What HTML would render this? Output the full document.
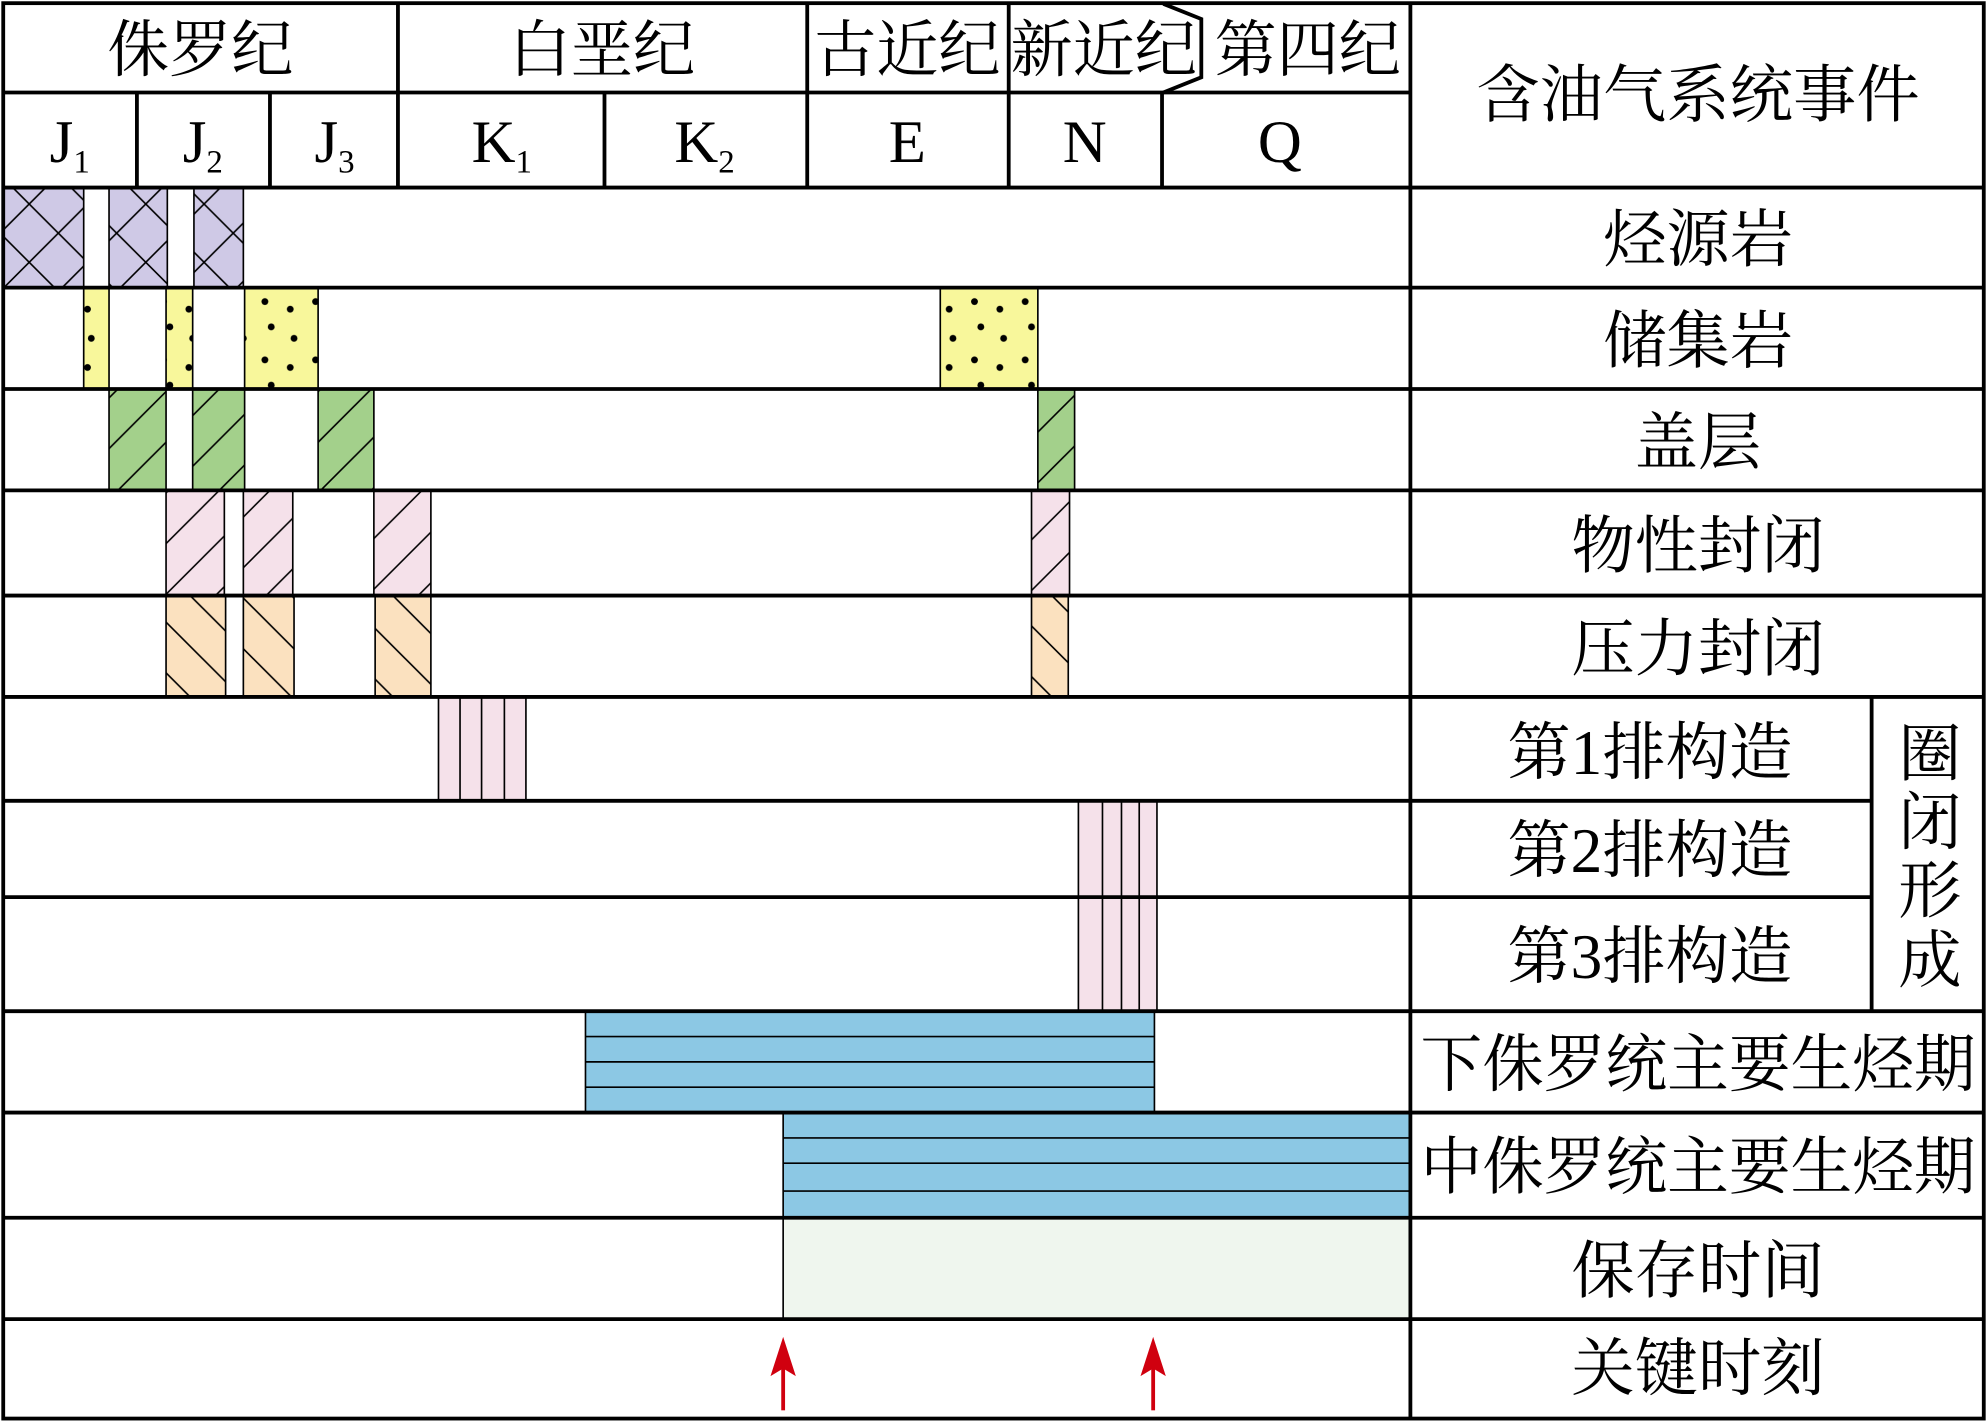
<!DOCTYPE html>
<html><head><meta charset="utf-8"><style>html,body{margin:0;padding:0;background:#fff}svg{display:block}</style></head>
<body>
<svg width="1987" height="1423" viewBox="0 0 1568 1123" xmlns="http://www.w3.org/2000/svg">
<defs>
<pattern id="px" patternUnits="userSpaceOnUse" width="46" height="46"><rect width="46" height="46" fill="#cfc9e6"/><path d="M0 0L46 46M46 0L0 46" stroke="#000" stroke-width="1.3"/></pattern>
<pattern id="py" patternUnits="userSpaceOnUse" width="40" height="46"><rect width="40" height="46" fill="#f8f79b"/><circle cx="9" cy="8" r="2.7"/><circle cx="29" cy="14" r="2.7"/><circle cx="14" cy="28" r="2.7"/><circle cx="32" cy="37" r="2.7"/></pattern>
<pattern id="pg" patternUnits="userSpaceOnUse" width="40" height="40"><rect width="40" height="40" fill="#a3d08b"/><path d="M-10 50L50 -10M-10 10L10 -10M30 50L50 30" stroke="#000" stroke-width="1.3"/></pattern>
<pattern id="pp" patternUnits="userSpaceOnUse" width="40" height="40"><rect width="40" height="40" fill="#f5e1ea"/><path d="M-10 50L50 -10M-10 10L10 -10M30 50L50 30" stroke="#000" stroke-width="1.2"/></pattern>
<pattern id="po" patternUnits="userSpaceOnUse" width="40" height="40"><rect width="40" height="40" fill="#fbe1bf"/><path d="M-10 -10L50 50M-10 30L10 50M30 -10L50 10" stroke="#000" stroke-width="1.3"/></pattern>
</defs>
<g stroke="#000" stroke-width="1.3">
<rect x="2" y="148" width="64" height="79" fill="url(#px)"/>
<rect x="86" y="148" width="46" height="79" fill="url(#px)"/>
<rect x="153" y="148" width="39" height="79" fill="url(#px)"/>
<rect x="66" y="227" width="20" height="80" fill="url(#py)"/>
<rect x="131" y="227" width="21" height="80" fill="url(#py)"/>
<rect x="193" y="227" width="58" height="80" fill="url(#py)"/>
<rect x="742" y="227" width="77" height="80" fill="url(#py)"/>
<rect x="86" y="307" width="45" height="80" fill="url(#pg)"/>
<rect x="152" y="307" width="41" height="80" fill="url(#pg)"/>
<rect x="251" y="307" width="44" height="80" fill="url(#pg)"/>
<rect x="819" y="307" width="29" height="80" fill="url(#pg)"/>
<rect x="131" y="387" width="46" height="83" fill="url(#pp)"/>
<rect x="192" y="387" width="39" height="83" fill="url(#pp)"/>
<rect x="295" y="387" width="45" height="83" fill="url(#pp)"/>
<rect x="814" y="387" width="30" height="83" fill="url(#pp)"/>
<rect x="131" y="470" width="47" height="80" fill="url(#po)"/>
<rect x="192" y="470" width="40" height="80" fill="url(#po)"/>
<rect x="296" y="470" width="44" height="80" fill="url(#po)"/>
<rect x="814" y="470" width="29" height="80" fill="url(#po)"/>
<rect x="346" y="550" width="69" height="82" fill="#f5e1ea"/>
<path d="M363 550V632M380 550V632M398 550V632"/>
<rect x="851" y="632" width="62" height="166" fill="#f5e1ea"/>
<path d="M870 632V798M885 632V798M899 632V798"/>
<rect x="462" y="798" width="449" height="80" fill="#8cc8e4"/>
<path d="M462 818H911M462 838H911M462 858H911"/>
<rect x="618" y="878" width="495" height="83" fill="#8cc8e4"/>
<path d="M618 898H1113M618 918H1113M618 940H1113"/>
<rect x="618" y="961" width="495" height="80" fill="#eff6ee"/>
</g>
<g fill="#d0000f" stroke="none">
<rect x="616.5" y="1075" width="3" height="38"/>
<path d="M618 1055L608 1086L618 1080L628 1086Z"/>
<rect x="908.5" y="1075" width="3" height="38"/>
<path d="M910 1055L900 1086L910 1080L920 1086Z"/>
</g>
<g stroke="#000" stroke-width="3" fill="none">
<rect x="2.5" y="2.5" width="1563" height="1117"/>
<path d="M2 73H1113M2 148H1566M2 227H1566M2 307H1566M2 387H1566M2 470H1566M2 550H1566M2 632H1477M2 708H1477M2 798H1566M2 878H1566M2 961H1566M2 1041H1566"/>
<path d="M1113 2V1120M1477 550V798"/>
<path d="M314 2V148M637 2V148M796 2V148M108 73V148M213 73V148M477 73V148M917 73V148"/>
<path d="M918 3L948 15V61L918 73"/>
</g>
<g font-family="'Liberation Serif','Noto Serif CJK SC',serif" text-anchor="middle" fill="#000">
<g font-size="49">
<text x="158" y="56">侏罗纪</text>
<text x="475" y="56">白垩纪</text>
<text x="716" y="56">古近纪</text>
<text x="871" y="56">新近纪</text>
<text x="1032" y="56">第四纪</text>
</g>
<g font-size="48">
<text x="55" y="128">J<tspan font-size="26" dy="8">1</tspan></text>
<text x="160" y="128">J<tspan font-size="26" dy="8">2</tspan></text>
<text x="264" y="128">J<tspan font-size="26" dy="8">3</tspan></text>
<text x="396" y="128">K<tspan font-size="26" dy="8">1</tspan></text>
<text x="556" y="128">K<tspan font-size="26" dy="8">2</tspan></text>
<text x="716" y="128">E</text>
<text x="856" y="128">N</text>
<text x="1010" y="128">Q</text>
</g>
<g font-size="50">
<text x="1340" y="92">含油气系统事件</text>
<text x="1340" y="206">烃源岩</text>
<text x="1340" y="286">储集岩</text>
<text x="1340" y="366">盖层</text>
<text x="1340" y="448">物性封闭</text>
<text x="1340" y="529">压力封闭</text>
<text x="1302" y="611">第1排构造</text>
<text x="1302" y="688">第2排构造</text>
<text x="1302" y="772">第3排构造</text>
<text x="1340" y="857" textLength="438" lengthAdjust="spacingAndGlyphs">下侏罗统主要生烃期</text>
<text x="1340" y="938" textLength="438" lengthAdjust="spacingAndGlyphs">中侏罗统主要生烃期</text>
<text x="1340" y="1020">保存时间</text>
<text x="1340" y="1097">关键时刻</text>
<text x="1523" y="612">圈</text>
<text x="1523" y="666">闭</text>
<text x="1523" y="720">形</text>
<text x="1523" y="775">成</text>
</g>
</g>
</svg>
</body></html>
